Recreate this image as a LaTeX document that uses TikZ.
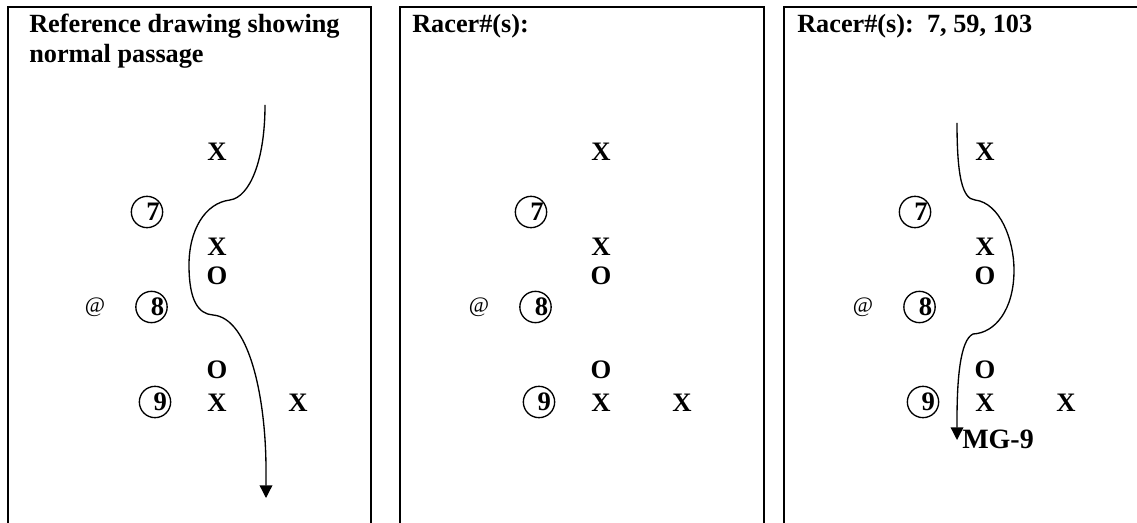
\documentclass[tikz,border=0pt]{standalone}
\usepackage{fontspec}
\setmainfont{Liberation Serif}
\usetikzlibrary{arrows.meta}
\newcommand\racemarks[2]{%
  \begin{scope}[xshift=#2*0.75pt]
    \node[mk] (#1x1) at (217,152) {X};
    \node[ring] (#1c7) at (147,212) {};
    \node[mk] (#1n7) at ([xshift=4.5pt]#1c7.center) {7};
    \node[mk] (#1x2) at (217,247) {X};
    \node[mk] (#1o1) at (217,276) {O};
    \node[atsign] (#1at) at (95,307) {@};
    \node[ring] (#1c8) at (151.5,307) {};
    \node[mk] (#1n8) at ([xshift=4.5pt]#1c8.center) {8};
    \node[mk] (#1o2) at (217,370) {O};
    \node[ring] (#1c9) at (155,402) {};
    \node[mk] (#1n9) at ([xshift=4pt]#1c9.center) {9};
    \node[mk] (#1x3) at (217,403) {X};
    \node[mk] (#1x4) at (298,403) {X};
  \end{scope}}
\begin{document}
\begin{tikzpicture}[x=0.75pt,y=-0.75pt,
  frame/.style={line width=1pt},
  mk/.style={font=\bfseries\fontsize{20}{22}\selectfont, inner sep=0pt},
  ring/.style={circle, draw, line width=1pt, minimum size=23.5pt, inner sep=0pt},
  atsign/.style={font=\fontsize{16.5}{18}\selectfont, inner sep=0pt},
  title/.style={anchor=base west, font=\bfseries\fontsize{19.7}{22}\selectfont, inner sep=0pt},
  route/.style={line width=1pt, -{Triangle[width=9.5pt,length=9.5pt]}}]
\useasboundingbox (0,0) rectangle (1137,523);
\begin{scope}
\clip (0,0) rectangle (1137,523);
% frames
\draw[frame] (8,530) -- (8,7) -- (371,7) -- (371,530);
\draw[frame] (400,530) -- (400,7) -- (764,7) -- (764,530);
\draw[frame] (784,530) -- (784,7) -- (1145,7);
\end{scope}
% titles
\node[title] (t1a) at (29,33) {Reference drawing showing};
\node[title] (t1b) at (29,63) {normal passage};
\node[title] (t2) at (412,33) {Racer\#(s):};
\node[title] (t3) at (797,33) {Racer\#(s):\ \ 7, 59, 103};
% marks
\racemarks{a}{0}
\racemarks{b}{384}
\racemarks{c}{768}
% route in panel 1
\coordinate (s1) at (265,105);
\coordinate (e1) at (266,498);
\draw[route] (s1) .. controls (265,160) and (250,197) .. (230,200)
  .. controls (205,203) and (189,230) .. (189,265)
  .. controls (189,300) and (198,314) .. (213,315)
  .. controls (250,318) and (266,400) .. (266,470) -- (e1);
% route in panel 3
\coordinate (s3) at (957,123);
\coordinate (e3) at (957,440);
\draw[route] (s3) .. controls (957,175) and (962,199) .. (975,200)
  .. controls (1000,203) and (1014,240) .. (1014,270)
  .. controls (1014,310) and (995,333) .. (973,334)
  .. controls (960,340) and (957,380) .. (957,420) -- (e3);
\node[title, font=\bfseries\fontsize{21}{22}\selectfont] (mg) at (962,448) {MG-9};
\end{tikzpicture}
\end{document}
